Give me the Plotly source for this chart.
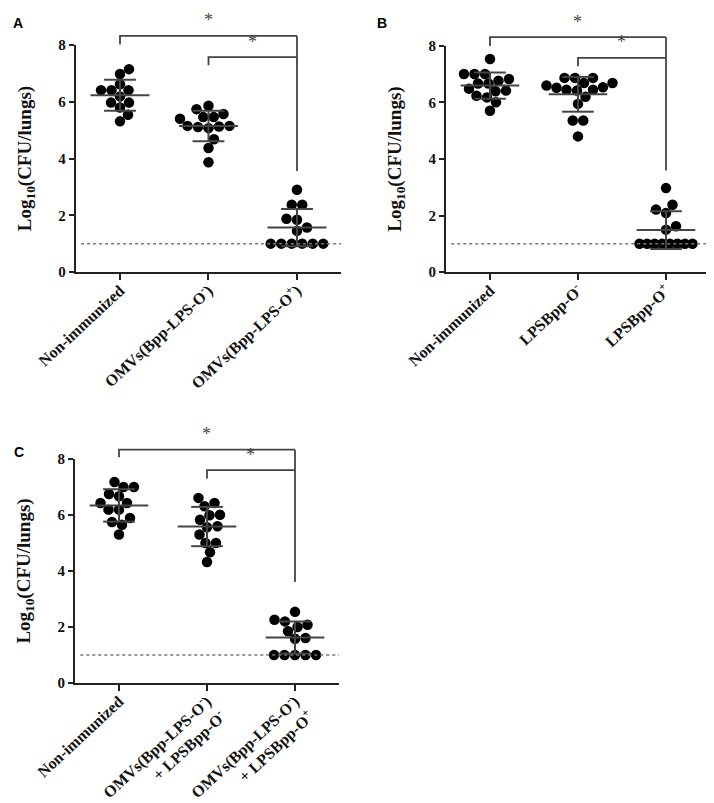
import statistics
import plotly.graph_objects as go

FIG_W, FIG_H = 714, 803

# ---------------- data ----------------
cats_A = ["Non-immunized", "OMVs(Bpp-LPS-O<sup>-</sup>)", "OMVs(Bpp-LPS-O<sup>+</sup>)"]
cats_B = ["Non-immunized", "LPSBpp-O<sup>-</sup>", "LPSBpp-O<sup>+</sup>"]
cats_C = ["Non-immunized",
          "OMVs(Bpp-LPS-O<sup>-</sup>)<br>+ LPSBpp-O<sup>-</sup>",
          "OMVs(Bpp-LPS-O<sup>-</sup>)<br>+ LPSBpp-O<sup>+</sup>"]

A_non = [7.15, 6.98, 6.62, 6.41, 6.41, 6.41, 6.19, 5.97, 5.97, 5.80, 5.54, 5.31]
A_omv_neg = [5.86, 5.74, 5.57, 5.46, 5.46, 5.40, 5.15, 5.15, 5.13, 5.11, 5.07, 4.68, 4.37, 3.87]
A_omv_pos = [2.90, 2.37, 2.37, 1.88, 1.84, 1.57, 1.45, 1.0, 1.0, 1.0, 1.0, 1.0, 1.0]

B_non = [7.54, 7.01, 7.01, 7.01, 6.83, 6.77, 6.67, 6.67, 6.49, 6.42, 6.40, 6.24, 6.18, 6.01, 5.71]
B_lps_neg = [6.87, 6.87, 6.87, 6.69, 6.69, 6.60, 6.54, 6.52, 6.45, 6.45, 6.42, 6.20, 5.95, 5.36, 5.36, 4.80]
B_lps_pos = [2.97, 2.38, 2.21, 2.09, 1.62, 1.50, 1.0, 1.0, 1.0, 1.0, 1.0, 1.0, 1.0, 1.0]

C_non = [7.18, 7.00, 7.00, 6.75, 6.67, 6.43, 6.43, 6.19, 6.19, 5.89, 5.75, 5.65, 5.30]
C_combo_neg = [6.61, 6.43, 6.31, 6.01, 5.99, 5.83, 5.60, 5.56, 5.30, 5.00, 5.00, 4.67, 4.32]
C_combo_pos = [2.54, 2.26, 2.20, 2.08, 2.00, 1.85, 1.61, 1.58, 1.0, 1.0, 1.0, 1.0, 1.0]

detection_limit = 1.0
y_ticks = [0, 2, 4, 6, 8]
y_max = 8

# significance brackets: (left group, right group, bar height, left drop end, mark)
brackets_A = [(0, 2, 8.32, 8.02, "*"), (1, 2, 7.57, 7.29, "*")]
brackets_B = [(0, 2, 8.31, 8.00, "*"), (1, 2, 7.58, 7.28, "*")]
brackets_C = [(0, 2, 8.33, 8.06, "*"), (1, 2, 7.60, 7.30, "*")]
bracket_drop_A, bracket_drop_B, bracket_drop_C = 3.56, 3.59, 3.61

# ---------------- layout geometry ----------------
panels = [
    dict(name="A", groups=[A_non, A_omv_neg, A_omv_pos], cats=cats_A, brackets=brackets_A,
         drop=bracket_drop_A, xd=[0.0949, 0.4667], yd=[0.6712, 0.9539], label_xy=(10, 15)),
    dict(name="B", groups=[B_non, B_lps_neg, B_lps_pos], cats=cats_B, brackets=brackets_B,
         drop=bracket_drop_B, xd=[0.6134, 0.9832], yd=[0.6712, 0.9527], label_xy=(374, 15)),
    dict(name="C", groups=[C_non, C_combo_neg, C_combo_pos], cats=cats_C, brackets=brackets_C,
         drop=bracket_drop_C, xd=[0.0938, 0.4636], yd=[0.1594, 0.4384], label_xy=(11, 444)),
]

X_RANGE = [-0.5, 2.5]
DOT_D = 10.5      # px, collision diameter
ROW_WMAX = 53     # px, widest row of tied values
LINE_COL = "#444444"
AXIS_COL = "#222222"


def swarm(vals, px_x, px_y):
    n = len(vals)
    order = sorted(range(n), key=lambda i: vals[i])
    groups = []
    for i in order:
        if groups and abs(vals[groups[-1][0]] - vals[i]) < 1e-9:
            groups[-1].append(i)
        else:
            groups.append([i])
    placed = []
    off = [0.0] * n

    def free(x, y):
        return all((x - a) ** 2 + (y - b) ** 2 >= (DOT_D * 0.97) ** 2 for a, b in placed)

    side = 1
    for g in groups:
        y = vals[g[0]] * px_y
        k = len(g)
        if k > 1:
            sp = min(DOT_D, ROW_WMAX / (k - 1))
            xs = [(t - (k - 1) / 2) * sp for t in range(k)]
            if all(free(x, y) for x in xs):
                for i, x in zip(g, xs):
                    off[i] = x / px_x
                placed.extend((x, y) for x in xs)
                continue
        for i in g:
            m = 0.0
            while True:
                cands = [0.0] if m == 0 else [side * m, -side * m]
                ok = [c for c in cands if free(c, y)]
                if ok:
                    x = ok[0]
                    break
                m += 0.5
            off[i] = x / px_x
            placed.append((x, y))
            if x != 0:
                side = -1 if x > 0 else 1
    return off


fig = go.Figure()
layout = dict(
    width=FIG_W, height=FIG_H, margin=dict(l=0, r=0, t=0, b=0),
    paper_bgcolor="white", plot_bgcolor="white", showlegend=False,
    shapes=[], annotations=[],
)

tick_font = dict(family="Liberation Serif", size=16, color="#111111", weight="bold")

for p_i, p in enumerate(panels):
    sfx = "" if p_i == 0 else str(p_i + 1)
    xa, ya = "x" + sfx, "y" + sfx
    px_x = (p["xd"][1] - p["xd"][0]) * FIG_W / (X_RANGE[1] - X_RANGE[0])
    px_y = (p["yd"][1] - p["yd"][0]) * FIG_H / y_max

    for g_i, vals in enumerate(p["groups"]):
        offs = swarm(vals, px_x, px_y)
        fig.add_trace(go.Scatter(
            x=[g_i + o for o in offs], y=vals, mode="markers", xaxis=xa, yaxis=ya,
            marker=dict(size=10.5, color="black", line=dict(width=0)),
            cliponaxis=False, hoverinfo="y",
        ))
        m = statistics.mean(vals)
        s = statistics.stdev(vals)
        hw, cw = 0.333, 0.18
        fig.add_trace(go.Scatter(
            x=[g_i - hw, g_i + hw, None, g_i - cw, g_i + cw, None, g_i - cw, g_i + cw, None, g_i, g_i],
            y=[m, m, None, m + s, m + s, None, m - s, m - s, None, m - s, m + s],
            mode="lines", xaxis=xa, yaxis=ya, line=dict(color=LINE_COL, width=2),
            hoverinfo="skip",
        ))

    layout["xaxis" + sfx] = dict(
        domain=p["xd"], anchor=ya, range=X_RANGE, tickmode="array", tickvals=[0, 1, 2],
        ticktext=p["cats"], tickangle=-43, showline=True, linecolor=AXIS_COL, linewidth=2,
        ticks="outside", ticklen=6, tickwidth=2, tickcolor=AXIS_COL, showgrid=False,
        zeroline=False, tickfont=tick_font, automargin=False, ticklabelstandoff=-5,
    )
    layout["yaxis" + sfx] = dict(
        domain=p["yd"], anchor=xa, range=[0, y_max], tickmode="array", tickvals=y_ticks,
        showline=True, linecolor=AXIS_COL, linewidth=2, ticks="outside", ticklen=5,
        tickwidth=2, tickcolor=AXIS_COL, showgrid=False, zeroline=False,
        tickfont=dict(family="Liberation Serif", size=15, color="#111111", weight="bold"),
        automargin=False,
        title=dict(text="Log<sub>10</sub>(CFU/lungs)", standoff=22,
                   font=dict(family="Liberation Serif", size=19, color="#111111", weight="bold")),
    )

    xdom = lambda v: (v - X_RANGE[0]) / (X_RANGE[1] - X_RANGE[0])
    ydom = lambda v: v / y_max
    # detection limit
    layout["shapes"].append(dict(
        type="line", xref=xa + " domain", yref=ya + " domain", x0=0.02, x1=1.0,
        y0=ydom(detection_limit), y1=ydom(detection_limit),
        line=dict(color="#777777", width=1.5, dash="dot"),
    ))
    # brackets
    for (g0, g1, top, lend, star) in p["brackets"]:
        layout["shapes"].append(dict(
            type="path", xref=xa + " domain", yref=ya + " domain",
            path=(f"M {xdom(g0)} {ydom(lend)} L {xdom(g0)} {ydom(top)} "
                  f"L {xdom(g1)} {ydom(top)}"),
            line=dict(color=LINE_COL, width=1.8),
        ))
        layout["annotations"].append(dict(
            x=xdom((g0 + g1) / 2), y=ydom(top + 0.55), xref=xa + " domain", yref=ya + " domain",
            text=star, showarrow=False, xanchor="center", yanchor="middle",
            font=dict(family="Liberation Serif", size=18, color=LINE_COL),
        ))
    layout["shapes"].append(dict(
        type="line", xref=xa + " domain", yref=ya + " domain",
        x0=xdom(2), x1=xdom(2), y0=ydom(p["brackets"][0][2]), y1=ydom(p["drop"]),
        line=dict(color=LINE_COL, width=1.8),
    ))
    # panel letter
    lx, ly = p["label_xy"]
    layout["annotations"].append(dict(
        x=lx / FIG_W, y=1 - ly / FIG_H, xref="paper", yref="paper", text=p["name"],
        showarrow=False, xanchor="center", yanchor="middle",
        font=dict(family="Liberation Sans", size=14, color="black", weight="bold"),
    ))

fig.update_layout(**layout)
fig.write_html("out.html")
